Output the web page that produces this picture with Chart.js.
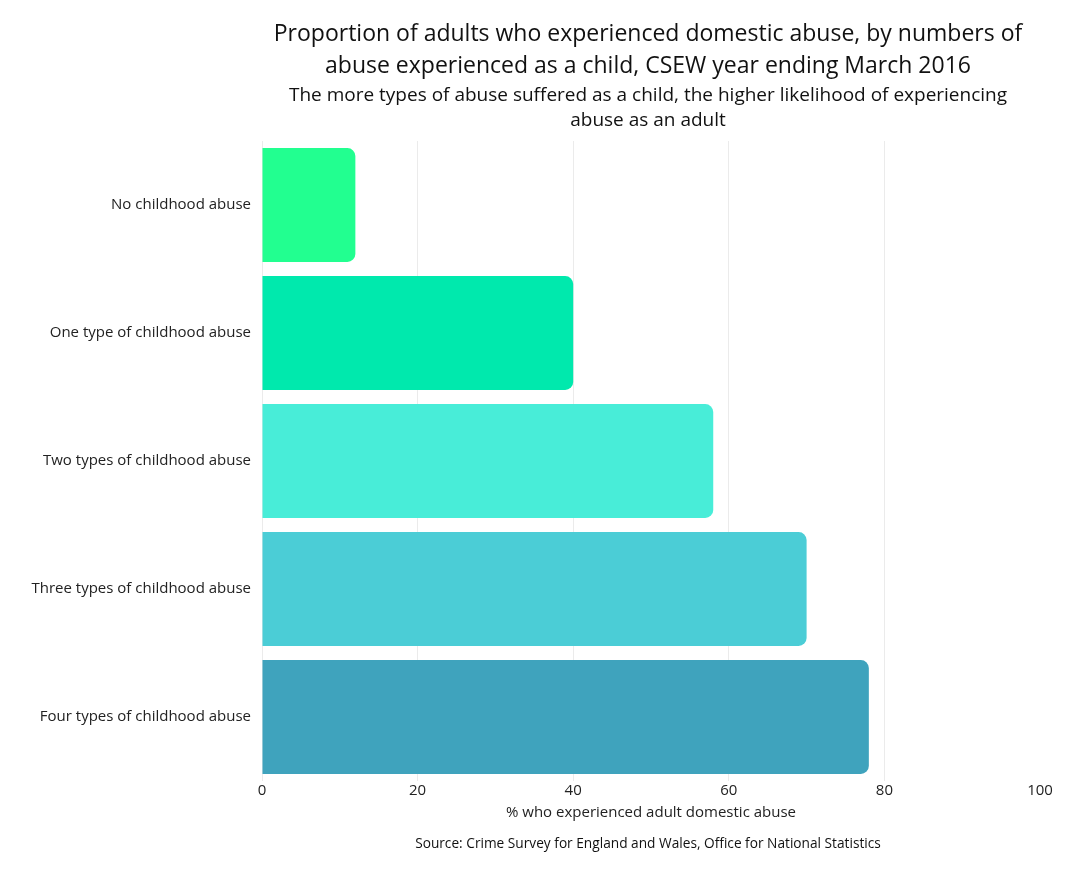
<!DOCTYPE html>
<html>
<head>
<meta charset="utf-8">
<script src="https://cdn.jsdelivr.net/npm/chart.js@4"></script>
<style>
  html, body { margin: 0; padding: 0; background: #fff; }
  #wrap { width: 1080px; height: 871px; }
</style>
</head>
<body>
<div id="wrap"><canvas id="abuse-chart"></canvas></div>
<script>
const categories = [
    'No childhood abuse',
    'One type of childhood abuse',
    'Two types of childhood abuse',
    'Three types of childhood abuse',
    'Four types of childhood abuse'
];
const percentages = [12, 40, 58, 70, 78];
const barColors = ['#22FF90', '#00E9AD', '#48EDD8', '#4BCDD6', '#3FA3BD'];
const xTicks = [0, 20, 40, 60, 80, 100];

const titleLines = [
    'Proportion of adults who experienced domestic abuse, by numbers of',
    'abuse experienced as a child, CSEW year ending March 2016'
];
const subtitleLines = [
    'The more types of abuse suffered as a child, the higher likelihood of experiencing',
    'abuse as an adult'
];
const sourceText = 'Source: Crime Survey for England and Wales, Office for National Statistics';

const FONT = "'Open Sans', sans-serif";

// draws the headings and the source note centred over the plot area
const textPlugin = {
    id: 'headings',
    afterDraw(chart) {
        const ctx = chart.ctx;
        const cx = (chart.chartArea.left + chart.chartArea.right) / 2 - 3;
        ctx.save();
        ctx.textAlign = 'center';
        ctx.textBaseline = 'middle';
        ctx.fillStyle = '#111';
        ctx.font = `23px ${FONT}`;
        titleLines.forEach((line, i) => ctx.fillText(line, cx, 34 + i * 32));
        ctx.font = `19px ${FONT}`;
        subtitleLines.forEach((line, i) => ctx.fillText(line, cx, 96 + i * 25));
        ctx.font = `13.7px ${FONT}`;
        ctx.fillText(sourceText, cx, 844);
        ctx.restore();
    }
};

new Chart(document.getElementById('abuse-chart'), {
    type: 'bar',
    data: {
        labels: categories,
        datasets: [{
            data: percentages,
            backgroundColor: barColors,
            borderRadius: 8,
            borderSkipped: 'start',
            barPercentage: 0.89,
            categoryPercentage: 1
        }]
    },
    options: {
        indexAxis: 'y',
        responsive: true,
        maintainAspectRatio: false,
        animation: false,
        layout: {
            padding: { top: 141, right: 40, bottom: 40, left: 0 }
        },
        plugins: {
            legend: { display: false },
            tooltip: { enabled: false }
        },
        scales: {
            x: {
                min: 0,
                max: 100,
                afterBuildTicks: scale => {
                    scale.ticks = xTicks.map(v => ({ value: v }));
                },
                afterFit: scale => { scale.height = 50; },
                grid: {
                    drawTicks: false,
                    color: ctx => (ctx.tick && ctx.tick.value === 100) ? 'rgba(0,0,0,0)' : '#ebebeb'
                },
                border: { display: false },
                ticks: {
                    padding: 1,
                    color: '#222',
                    font: { family: FONT, size: 15 }
                },
                title: {
                    display: true,
                    text: '% who experienced adult domestic abuse',
                    color: '#222',
                    padding: { top: 0, bottom: 9 },
                    font: { family: FONT, size: 15 }
                }
            },
            y: {
                afterFit: scale => { scale.width = 262; },
                grid: { display: false, drawTicks: false },
                border: { display: false },
                ticks: {
                    padding: 11,
                    color: '#222',
                    font: { family: FONT, size: 15 }
                }
            }
        }
    },
    plugins: [textPlugin]
});
</script>
</body>
</html>
